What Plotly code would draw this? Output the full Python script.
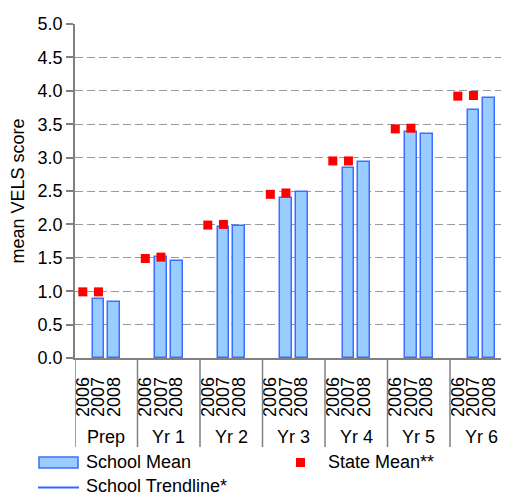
import plotly.graph_objects as go

categories = ["Prep", "Yr 1", "Yr 2", "Yr 3", "Yr 4", "Yr 5", "Yr 6"]
years = ["2006", "2007", "2008"]
school_mean_2007 = [0.89, 1.51, 1.96, 2.40, 2.85, 3.39, 3.72]
school_mean_2008 = [0.84, 1.45, 1.97, 2.48, 2.94, 3.36, 3.89]
state_mean_2006 = [0.99, 1.49, 1.99, 2.45, 2.95, 3.43, 3.92]
state_mean_2007 = [0.99, 1.51, 2.00, 2.47, 2.95, 3.44, 3.93]
y_ticks = [0.0, 0.5, 1.0, 1.5, 2.0, 2.5, 3.0, 3.5, 4.0, 4.5, 5.0]

SLOTS = 4  # three years + one empty gap slot per category
FONT = "Liberation Sans, Arial, sans-serif"
FS = 18

OFF = 8  # page body margin
W, H = 509 - OFF, 496 - OFF
ML, MT, MB, MR = 75 - OFF, 24 - OFF, 138, 0
PW, PH = W - ML - MR, H - MT - MB


def slot(ci, yi):
    return ci * SLOTS + yi


def px_to_paper_x(px):
    return (px - OFF - ML) / PW


def px_to_paper_y(py):
    return (H - MB - (py - OFF)) / PH


fig = go.Figure()

# School mean bars (2007, 2008)
bx, by = [], []
for ci in range(len(categories)):
    bx += [slot(ci, 1), slot(ci, 2)]
    by += [school_mean_2007[ci], school_mean_2008[ci]]
fig.add_trace(go.Bar(
    x=bx, y=by, width=0.76, name="School Mean",
    marker=dict(color="#99CCFF", line=dict(color="#3D6EFF", width=1.5)),
    showlegend=False,
))

# State mean markers (2006, 2007)
sx, sy = [], []
for ci in range(len(categories)):
    sx += [slot(ci, 0), slot(ci, 1)]
    sy += [state_mean_2006[ci], state_mean_2007[ci]]
fig.add_trace(go.Scatter(
    x=sx, y=sy, mode="markers", name="State Mean**",
    marker=dict(symbol="square", size=9, color="#FF0000", line=dict(width=0)),
    showlegend=False, cliponaxis=False,
))

tickvals, ticktext = [], []
for ci in range(len(categories)):
    for yi, yr in enumerate(years):
        tickvals.append(slot(ci, yi))
        ticktext.append(yr)

shapes = []
annotations = []
div_bottom = px_to_paper_y(447)
for ci in range(len(categories) + 1):
    shapes.append(dict(type="line", xref="x", yref="paper",
                       x0=ci * SLOTS - 0.5, x1=ci * SLOTS - 0.5,
                       y0=0, y1=div_bottom,
                       line=dict(color="#808080", width=1.5)))
for ci, c in enumerate(categories):
    annotations.append(dict(x=ci * SLOTS + (SLOTS - 1) / 2, y=px_to_paper_y(437),
                            xref="x", yref="paper", text=c, showarrow=False,
                            xanchor="center", yanchor="middle",
                            font=dict(family=FONT, size=FS, color="black")))

# Manual legend
shapes.append(dict(type="rect", xref="paper", yref="paper",
                   x0=px_to_paper_x(39), x1=px_to_paper_x(78),
                   y0=px_to_paper_y(468), y1=px_to_paper_y(457),
                   fillcolor="#99CCFF", line=dict(color="#3D6EFF", width=1.5)))
shapes.append(dict(type="line", xref="paper", yref="paper",
                   x0=px_to_paper_x(38), x1=px_to_paper_x(79),
                   y0=px_to_paper_y(487.5), y1=px_to_paper_y(487.5),
                   line=dict(color="#3366FF", width=2)))
shapes.append(dict(type="rect", xref="paper", yref="paper",
                   x0=px_to_paper_x(296), x1=px_to_paper_x(305),
                   y0=px_to_paper_y(467), y1=px_to_paper_y(458),
                   fillcolor="#FF0000", line=dict(width=0)))
for text, x, y in [("School Mean", 84, 462), ("School Trendline*", 84, 486.5),
                   ("State Mean**", 326, 462)]:
    annotations.append(dict(x=px_to_paper_x(x), y=px_to_paper_y(y), xref="paper",
                            yref="paper", text=text, showarrow=False,
                            xanchor="left", yanchor="middle",
                            font=dict(family=FONT, size=FS, color="black")))

fig.update_layout(
    width=W, height=H,
    margin=dict(l=ML, r=MR, t=MT, b=MB, pad=0),
    paper_bgcolor="white", plot_bgcolor="white",
    font=dict(family=FONT, size=FS, color="black"),
    shapes=shapes, annotations=annotations,
    showlegend=False,
    bargap=0,
)
fig.update_xaxes(
    range=[-0.5, -0.5 + PW / (62.5 / SLOTS)],
    tickmode="array", tickvals=tickvals, ticktext=ticktext,
    tickangle=-90, ticks="", ticklabelstandoff=10,
    showgrid=False, zeroline=False,
    showline=True, linecolor="#808080", linewidth=1.5,
    tickfont=dict(family=FONT, size=FS, color="black"),
)
fig.update_yaxes(
    range=[0, 5], tickmode="array", tickvals=y_ticks,
    ticktext=[f"{v:.1f}" for v in y_ticks],
    ticks="outside", ticklen=7, tickcolor="#808080", tickwidth=1.5,
    showline=True, linecolor="#808080", linewidth=1.5,
    showgrid=True, gridcolor="#9A9A9A", gridwidth=1, griddash="8px,4px",
    zeroline=False,
    title=dict(text="mean VELS score", standoff=10,
               font=dict(family=FONT, size=FS, color="black")),
    tickfont=dict(family=FONT, size=FS, color="black"),
)

fig.write_html("out.html")
